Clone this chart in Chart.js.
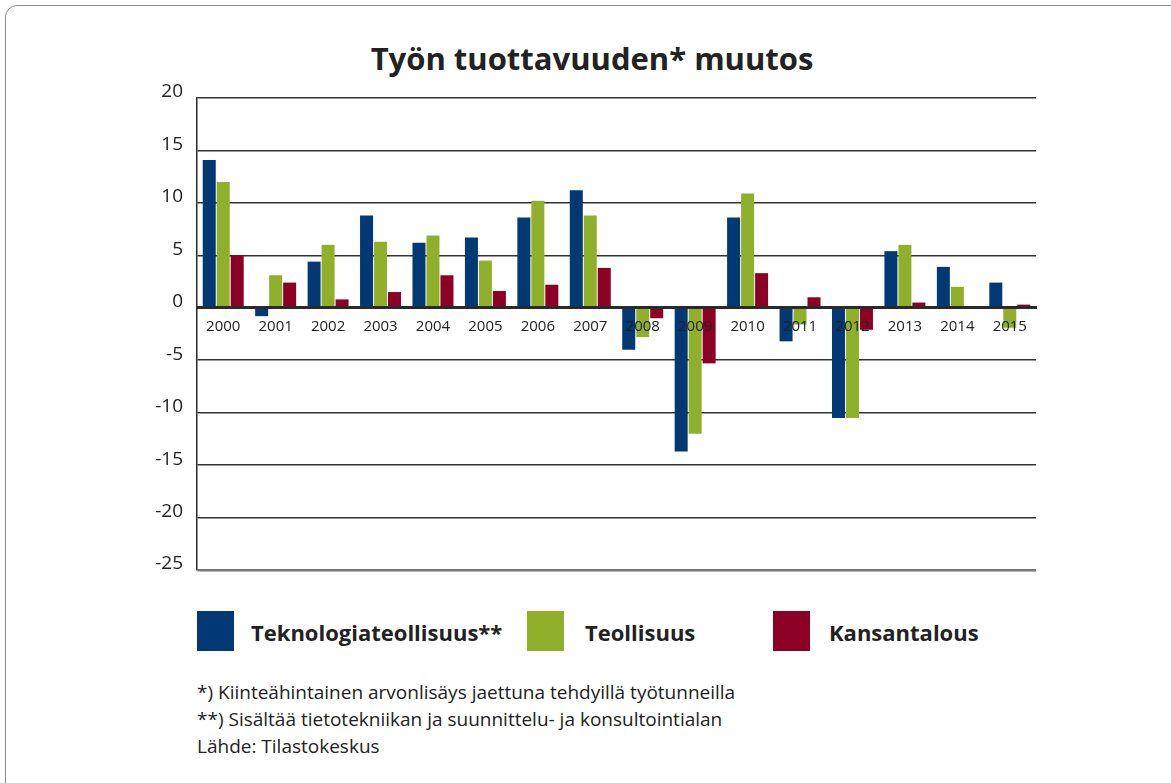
<!DOCTYPE html>
<html>
<head>
<meta charset="utf-8">
<script src="https://cdn.jsdelivr.net/npm/chart.js@4"></script>
<style>
  html, body { margin: 0; padding: 0; background: #fff; }
  body { width: 1171px; height: 783px; position: relative; overflow: hidden; font-family: "Open Sans", sans-serif; color: #222; }
  .frame { position: absolute; left: 5px; top: 5px; width: 1180px; height: 800px; border: 1.5px solid #8a8a8a; border-radius: 12px; }
  .title { position: absolute; left: 0; width: 1184px; top: 37px; text-align: center; font-weight: 700; font-size: 31px; }
  #wrap { position: absolute; left: 0; top: 70px; width: 1046px; height: 510px; }
  .legend { position: absolute; top: 611px; height: 40px; }
  .sw { position: absolute; top: 0; width: 37px; height: 40px; }
  .lt { position: absolute; top: 6px; font-weight: 700; font-size: 22px; white-space: nowrap; }
  .notes { position: absolute; left: 197px; top: 679px; font-size: 19px; line-height: 27px; }
</style>
</head>
<body>
<div class="frame"></div>
<div class="title">Työn tuottavuuden* muutos</div>
<div id="wrap"><canvas id="myChart"></canvas></div>
<div id="legend"></div>
<div class="notes">
  *) Kiinteähintainen arvonlisäys jaettuna tehdyillä työtunneilla<br>
  **) Sisältää tietotekniikan ja suunnittelu- ja konsultointialan<br>
  Lähde: Tilastokeskus
</div>
<script>
const years = ['2000', '2001', '2002', '2003', '2004', '2005', '2006', '2007',
               '2008', '2009', '2010', '2011', '2012', '2013', '2014', '2015'];
const teknologia = [14.1, -0.8, 4.4, 8.8, 6.2, 6.7, 8.6, 11.2, -4.0, -13.7, 8.6, -3.2, -10.5, 5.4, 3.9, 2.4];
const teollisuus = [12.0, 3.1, 6.0, 6.3, 6.9, 4.5, 10.2, 8.8, -2.8, -12.0, 10.9, -1.6, -10.5, 6.0, 2.0, -1.9];
const kansantalous = [5.0, 2.4, 0.8, 1.5, 3.1, 1.6, 2.2, 3.8, -1.0, -5.3, 3.3, 1.0, -2.1, 0.5, -0.1, 0.3];
const seriesNames = ['Teknologiateollisuus**', 'Teollisuus', 'Kansantalous'];
const seriesColors = ['#023874', '#90b02c', '#8c0027'];
const yTicks = [20, 15, 10, 5, 0, -5, -10, -15, -20, -25];

// legend in html, placed like the original
const legendPos = [[197, 251], [527, 585], [773, 829]];
const legend = document.getElementById('legend');
seriesNames.forEach((name, i) => {
    const d = document.createElement('div');
    d.className = 'legend';
    d.style.left = legendPos[i][0] + 'px';
    d.innerHTML = '<div class="sw" style="left:0;background:' + seriesColors[i] + '"></div>' +
        '<div class="lt" style="left:' + (legendPos[i][1] - legendPos[i][0]) + 'px">' + name + '</div>';
    legend.appendChild(d);
});

const ctx = document.getElementById('myChart');
new Chart(ctx, {
    type: 'bar',
    data: {
        labels: years,
        datasets: [teknologia, teollisuus, kansantalous].map((vals, i) => ({
            label: seriesNames[i],
            data: vals,
            backgroundColor: seriesColors[i],
            barPercentage: 0.93,
            categoryPercentage: 0.8
        }))
    },
    options: {
        responsive: true,
        maintainAspectRatio: false,
        animation: false,
        layout: { padding: { left: 140, right: 10, top: 28, bottom: 10 } },
        plugins: {
            legend: { display: false },
            tooltip: { enabled: false }
        },
        scales: {
            x: {
                position: { y: 0 },
                grid: { display: false, drawTicks: false },
                border: { display: true, color: '#2a2a2a', width: 3, z: 1 },
                ticks: {
                    z: 1,
                    color: '#222',
                    font: { family: 'Open Sans', size: 15 },
                    padding: 10,
                    maxRotation: 0,
                    autoSkip: false
                }
            },
            y: {
                min: -25,
                max: 20,
                afterFit: (s) => { s.width = 57; s.paddingTop = 0; s.paddingBottom = 0; },
                afterBuildTicks: (s) => { s.ticks = yTicks.map(v => ({ value: v })); },
                grid: {
                    drawTicks: false,
                    color: (c) => c.tick && c.tick.value === -25 ? '#777' : '#333',
                    lineWidth: (c) => c.tick && c.tick.value === -25 ? 2.5 : 1.5
                },
                border: { display: true, color: '#2a2a2a', width: 1.5 },
                ticks: {
                    color: '#222',
                    font: { family: 'Open Sans', size: 19 },
                    padding: 14,
                    labelOffset: -6
                }
            }
        }
    }
});
</script>
</body>
</html>
